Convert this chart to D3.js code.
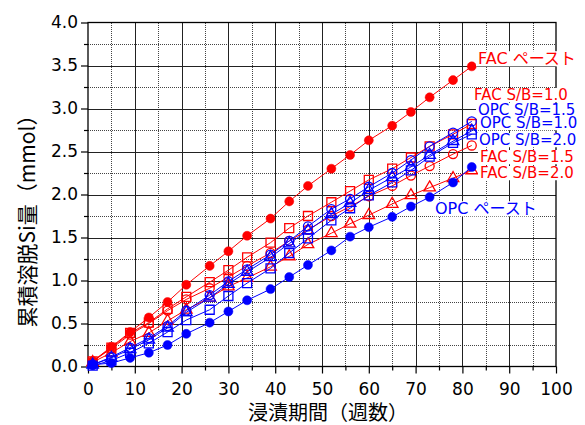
<!DOCTYPE html>
<html>
<head>
<meta charset="utf-8">
<script src="https://cdn.jsdelivr.net/npm/d3@7"></script>
<style>
  html, body { margin: 0; padding: 0; background: #fff; }
  svg { display: block; }
</style>
</head>
<body>
<svg id="chart" width="585" height="425"></svg>
<script>
// Immersion period (weeks)
const weeks = [1, 5, 9, 13, 17, 21, 26, 30, 34, 39, 43, 47, 52, 56, 60, 65, 69, 73, 78, 82];

// Cumulative leached Si (mmol)
const facPaste = [0.06, 0.23, 0.40, 0.57, 0.75, 0.95, 1.17, 1.34, 1.52, 1.72, 1.92, 2.10, 2.30, 2.46, 2.63, 2.80, 2.96, 3.13, 3.33, 3.49];
const fac10    = [0.06, 0.22, 0.39, 0.51, 0.67, 0.81, 0.98, 1.12, 1.27, 1.44, 1.61, 1.75, 1.91, 2.04, 2.17, 2.30, 2.43, 2.56, 2.70, 2.82];
const fac15    = [0.06, 0.21, 0.37, 0.50, 0.65, 0.78, 0.91, 1.04, 1.17, 1.32, 1.46, 1.59, 1.75, 1.86, 1.98, 2.10, 2.22, 2.33, 2.47, 2.57];
const fac20    = [0.05, 0.16, 0.29, 0.39, 0.53, 0.66, 0.80, 0.93, 1.03, 1.16, 1.28, 1.42, 1.55, 1.66, 1.76, 1.89, 1.99, 2.08, 2.19, 2.28];
const opcPaste = [0.02, 0.04, 0.10, 0.16, 0.25, 0.38, 0.51, 0.64, 0.77, 0.90, 1.04, 1.18, 1.35, 1.51, 1.62, 1.74, 1.86, 1.97, 2.14, 2.32];
const opc15    = [0.02, 0.11, 0.22, 0.33, 0.47, 0.65, 0.83, 0.99, 1.13, 1.30, 1.46, 1.63, 1.83, 1.95, 2.09, 2.25, 2.40, 2.56, 2.72, 2.85];
const opc10    = [0.02, 0.10, 0.20, 0.31, 0.45, 0.63, 0.80, 0.96, 1.10, 1.27, 1.43, 1.58, 1.77, 1.90, 2.05, 2.20, 2.32, 2.46, 2.62, 2.74];
const opc20    = [0.01, 0.07, 0.16, 0.27, 0.40, 0.54, 0.66, 0.82, 0.97, 1.14, 1.32, 1.49, 1.70, 1.84, 1.99, 2.14, 2.28, 2.44, 2.60, 2.70];

const seriesNames = ["FAC ペースト", "FAC S/B=1.0", "OPC S/B=1.5", "OPC S/B=1.0", "OPC S/B=2.0", "FAC S/B=1.5", "FAC S/B=2.0", "OPC ペースト"];

// Axis ticks
const xTicks = [0, 10, 20, 30, 40, 50, 60, 70, 80, 90, 100];
const xMinorTicks = [5, 15, 25, 35, 45, 55, 65, 75, 85, 95];
const yTicks = [0, 0.5, 1.0, 1.5, 2.0, 2.5, 3.0, 3.5, 4.0];
const yMinorTicks = [0.25, 0.75, 1.25, 1.75, 2.25, 2.75, 3.25, 3.75];

const xTitle = "浸漬期間（週数）";
const yTitle = "累積溶脱Si量（mmol）";

const RED = "#ff0000";
const BLUE = "#0000ff";

const series = [
  { name: seriesNames[0], values: facPaste, color: RED,  shape: "circle",   filled: true },
  { name: seriesNames[1], values: fac10,    color: RED,  shape: "square",   filled: false },
  { name: seriesNames[5], values: fac15,    color: RED,  shape: "circle",   filled: false },
  { name: seriesNames[6], values: fac20,    color: RED,  shape: "triangle", filled: false },
  { name: seriesNames[7], values: opcPaste, color: BLUE, shape: "circle",   filled: true },
  { name: seriesNames[2], values: opc15,    color: BLUE, shape: "circle",   filled: false },
  { name: seriesNames[3], values: opc10,    color: BLUE, shape: "triangle", filled: false },
  { name: seriesNames[4], values: opc20,    color: BLUE, shape: "square",   filled: false }
];

// Series label placement (left x, baseline y, font size) and colour
const labelLayout = [
  { name: seriesNames[0], x: 478, y: 64,  size: 16, color: RED },
  { name: seriesNames[1], x: 474, y: 100, size: 15, color: RED },
  { name: seriesNames[2], x: 478, y: 115, size: 15, color: BLUE },
  { name: seriesNames[3], x: 480, y: 128, size: 15, color: BLUE },
  { name: seriesNames[4], x: 479, y: 145, size: 15, color: BLUE },
  { name: seriesNames[5], x: 480, y: 162, size: 15, color: RED },
  { name: seriesNames[6], x: 480, y: 178, size: 15, color: RED },
  { name: seriesNames[7], x: 435, y: 214, size: 16, color: BLUE }
];

const svg = d3.select("#chart");
const plotLeft = 88, plotRight = 556, plotTop = 22.5, plotBottom = 366.5;

const x = d3.scaleLinear().domain([0, 100]).range([plotLeft, plotRight]);
const y = d3.scaleLinear().domain([0, 4]).range([plotBottom, plotTop]);

const latin = "'DejaVu Sans', sans-serif";
const mixed = "'DejaVu Sans', 'Noto Sans CJK JP', sans-serif";
const cjk = "'Noto Sans CJK JP', sans-serif";

svg.append("rect").attr("width", 585).attr("height", 425).attr("fill", "#fff");

// Grid
const grid = svg.append("g").attr("shape-rendering", "crispEdges");
grid.selectAll(".vminor").data(xMinorTicks).join("line")
  .attr("x1", d => Math.round(x(d)) + 0.5).attr("x2", d => Math.round(x(d)) + 0.5)
  .attr("y1", plotTop).attr("y2", plotBottom)
  .attr("stroke", "#444").attr("stroke-dasharray", "1,1");
grid.selectAll(".hminor").data(yMinorTicks).join("line")
  .attr("y1", d => Math.round(y(d)) + 0.5).attr("y2", d => Math.round(y(d)) + 0.5)
  .attr("x1", plotLeft).attr("x2", plotRight)
  .attr("stroke", "#444").attr("stroke-dasharray", "1,1");
grid.selectAll(".vmajor").data(xTicks.slice(1, -1)).join("line")
  .attr("x1", d => Math.round(x(d)) + 0.5).attr("x2", d => Math.round(x(d)) + 0.5)
  .attr("y1", plotTop).attr("y2", plotBottom)
  .attr("stroke", "#222");
grid.selectAll(".hmajor").data(yTicks.slice(1, -1)).join("line")
  .attr("y1", d => Math.round(y(d)) + 0.5).attr("y2", d => Math.round(y(d)) + 0.5)
  .attr("x1", plotLeft).attr("x2", plotRight)
  .attr("stroke", "#222");

// Frame
svg.append("rect")
  .attr("x", plotLeft).attr("y", plotTop)
  .attr("width", plotRight - plotLeft).attr("height", plotBottom - plotTop)
  .attr("fill", "none").attr("stroke", "#000").attr("stroke-width", 1.3);

// Axes
svg.append("g").attr("transform", `translate(${plotLeft},0)`)
  .call(d3.axisLeft(y).tickValues(yTicks).tickFormat(d3.format(".1f")).tickSize(7).tickPadding(3));
svg.append("g").attr("transform", `translate(${plotLeft},0)`)
  .call(d3.axisLeft(y).tickValues(yMinorTicks).tickFormat("").tickSize(4));
svg.append("g").attr("transform", `translate(0,${plotBottom})`)
  .call(d3.axisBottom(x).tickValues(xTicks).tickFormat(d3.format("d")).tickSize(7).tickPadding(9));
svg.append("g").attr("transform", `translate(0,${plotBottom})`)
  .call(d3.axisBottom(x).tickValues(xMinorTicks).tickFormat("").tickSize(4));
svg.selectAll(".domain").remove();
svg.selectAll(".tick line").attr("stroke", "#000").attr("stroke-width", 1.2);
svg.selectAll(".tick text").attr("font-family", latin).attr("font-size", 17).attr("fill", "#000");

// Axis titles
svg.append("text")
  .attr("x", 328).attr("y", 420)
  .attr("text-anchor", "middle")
  .attr("font-family", cjk).attr("font-size", 20).attr("fill", "#000")
  .text(xTitle);
svg.append("text")
  .attr("transform", "translate(35,216) rotate(-90)")
  .attr("text-anchor", "middle")
  .attr("font-family", cjk).attr("font-size", 21).attr("fill", "#000")
  .text(yTitle);

// Series lines and markers
const line = d3.line().x((d, i) => x(weeks[i])).y(d => y(d));
const plot = svg.append("g");
const sym = {
  circle: d3.symbol().type(d3.symbolCircle).size(64),
  square: d3.symbol().type(d3.symbolSquare).size(81),
  triangle: d3.symbol().type(d3.symbolTriangle).size(58)
};

series.forEach(s => {
  const g = plot.append("g");
  g.append("path")
    .attr("d", line(s.values))
    .attr("fill", "none").attr("stroke", s.color).attr("stroke-width", 1);
  g.selectAll("path.m").data(s.values).join("path")
    .attr("class", "m")
    .attr("transform", (d, i) => `translate(${x(weeks[i])},${y(d)})`)
    .attr("d", sym[s.shape])
    .attr("fill", s.filled ? s.color : "none")
    .attr("stroke", s.color)
    .attr("stroke-width", s.filled ? 0.5 : 1.3);
});

// Series labels: white backing boxes first, then the texts on top
const backs = svg.append("g");
const texts = svg.append("g");
labelLayout.forEach(l => {
  const t = texts.append("text")
    .attr("x", l.x).attr("y", l.y)
    .attr("font-family", mixed).attr("font-size", l.size)
    .attr("fill", l.color)
    .text(l.name);
  const w = t.node().getComputedTextLength();
  backs.append("rect")
    .attr("x", l.x - 2).attr("y", l.y - l.size * 0.8)
    .attr("width", w + 4).attr("height", l.size * 0.95)
    .attr("fill", "#fff");
});
</script>
</body>
</html>
